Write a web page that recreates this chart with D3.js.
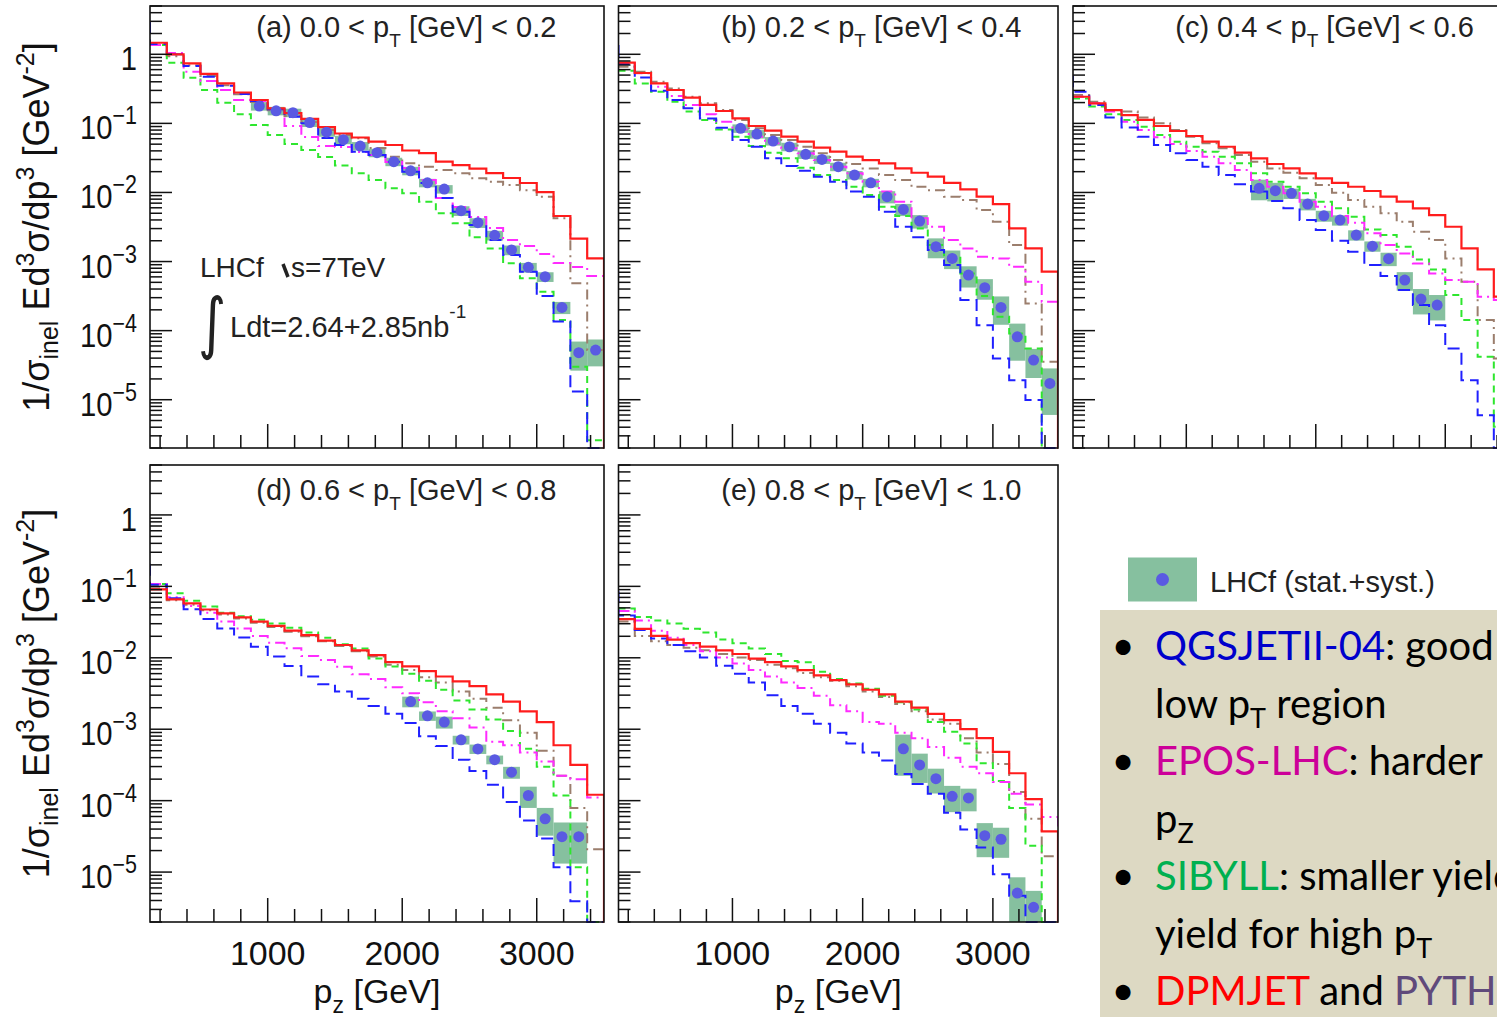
<!DOCTYPE html>
<html>
<head>
<meta charset="utf-8">
<script src="https://cdn.jsdelivr.net/npm/d3@7/dist/d3.min.js"></script>
<style>
  html, body { margin: 0; padding: 0; background: #fff; overflow: hidden; }
  svg { display: block; }
  text { font-family: "Liberation Sans", Arial, Helvetica, sans-serif; }
</style>
</head>
<body>
<svg id="chart" width="1497" height="1017"></svg>
<script>
// pi0 pz spectra, LHCf p+p at 7 TeV, five pT intervals.
// Each model array holds one value per 125 GeV pz bin, from 125 GeV up to 3500 GeV.
// Unit: 1/sigma_inel E d3sigma/dp3 [GeV^-2]. 0 = empty bin.

const ptLow  = ["0.0", "0.2", "0.4", "0.6", "0.8"];
const ptHigh = ["0.2", "0.4", "0.6", "0.8", "1.0"];
const panelTags = ["(a)", "(b)", "(c)", "(d)", "(e)"];

// QGSJET II-04 content of the 0-125 GeV bin (left of the frame)
const qgsjetUnderflow = [3.1, 1.44, 0.53, 0.216, 0.0906];

// ---- (a) 0.0 < pT < 0.2 GeV
const dpmjetA = [1.47, 1.0, 0.74, 0.52, 0.38, 0.28, 0.218, 0.165, 0.141, 0.116, 0.0885, 0.0713, 0.0624, 0.0543, 0.0486, 0.0405, 0.0372, 0.0279, 0.0249, 0.0222, 0.0191, 0.0162, 0.0137, 0.0101, 0.00456, 0.00215, 0.00111];
const qgsjetA = [1.41, 1.0, 0.676, 0.474, 0.351, 0.266, 0.211, 0.160, 0.125, 0.100, 0.0614, 0.0486, 0.0389, 0.0348, 0.0279, 0.0200, 0.0137, 0.00832, 0.00526, 0.00338, 0.00205, 0.00124, 0.000713, 0.000317, 0.000135, 1.31e-5, 0];
const eposA   = [1.36, 1.04, 0.560, 0.410, 0.304, 0.218, 0.211, 0.161, 0.0916, 0.0635, 0.0470, 0.0455, 0.0385, 0.0348, 0.0276, 0.0226, 0.0151, 0.00832, 0.00615, 0.00442, 0.00305, 0.00205, 0.00168, 0.00129, 0.000953, 0.000834, 0.000617];
const sibyllA = [1.36, 0.755, 0.458, 0.304, 0.199, 0.135, 0.0946, 0.0679, 0.0502, 0.0411, 0.0326, 0.0245, 0.0189, 0.0151, 0.0115, 0.00973, 0.00735, 0.00499, 0.00357, 0.00224, 0.00155, 0.000942, 0.000571, 0.000366, 0.000142, 3.0e-5, 2.6e-6];
const pythiaA = [1.38, 0.935, 0.693, 0.485, 0.356, 0.264, 0.204, 0.155, 0.128, 0.105, 0.0802, 0.0679, 0.0608, 0.0440, 0.0329, 0.0264, 0.0236, 0.0211, 0.0189, 0.0160, 0.0143, 0.0128, 0.0108, 0.00867, 0.00423, 0.000484, 5.24e-5];
const lhcfA   = [null, null, null, null, null, null, 0.178, 0.152, 0.143, 0.103, 0.0745, 0.058, 0.047, 0.0376, 0.0279, 0.0206, 0.0138, 0.0112, 0.00544, 0.00365, 0.0024, 0.00147, 0.000824, 0.000603, 0.000217, 4.79e-5, 5.24e-5];
const lhcfErrA = [null, null, null, null, null, null, 0.14, 0.14, 0.14, 0.14, 0.14, 0.14, 0.14, 0.14, 0.14, 0.14, 0.14, 0.14, 0.16, 0.16, 0.16, 0.16, 0.16, 0.16, 0.2, 0.45, 0.42];

// ---- (b) 0.2 < pT < 0.4 GeV
const dpmjetB = [0.757, 0.536, 0.379, 0.304, 0.236, 0.185, 0.151, 0.118, 0.0916, 0.0783, 0.0641, 0.0543, 0.0445, 0.0389, 0.0330, 0.0294, 0.0264, 0.0223, 0.0193, 0.0169, 0.0138, 0.0111, 0.00869, 0.00679, 0.00302, 0.00155, 0.000713];
const qgsjetB = [0.723, 0.463, 0.297, 0.218, 0.165, 0.118, 0.0867, 0.0574, 0.0459, 0.0312, 0.0242, 0.0207, 0.0169, 0.0143, 0.0103, 0.00869, 0.00526, 0.00319, 0.00224, 0.00147, 0.000889, 0.000277, 0.000120, 3.96e-5, 1.92e-5, 9.9e-6, 0];
const eposB   = [0.740, 0.530, 0.340, 0.249, 0.185, 0.136, 0.106, 0.0818, 0.0641, 0.0514, 0.0435, 0.0368, 0.0294, 0.0236, 0.0189, 0.0143, 0.0103, 0.00735, 0.00422, 0.00319, 0.00205, 0.00155, 0.00117, 0.00111, 0.000841, 0.000511, 0.000262];
const sibyllB = [0.579, 0.379, 0.288, 0.206, 0.148, 0.112, 0.0818, 0.0641, 0.0470, 0.0377, 0.0312, 0.0228, 0.0179, 0.0151, 0.0121, 0.00918, 0.00622, 0.00456, 0.00302, 0.00173, 0.00117, 0.000673, 0.000316, 0.000159, 9.12e-5, 5.53e-5, 0];
const pythiaB = [0.662, 0.560, 0.402, 0.321, 0.243, 0.195, 0.156, 0.112, 0.0847, 0.0678, 0.0574, 0.0459, 0.0368, 0.0294, 0.0258, 0.0223, 0.0179, 0.0151, 0.0121, 0.0108, 0.00869, 0.00776, 0.00556, 0.00378, 0.00173, 0.000248, 3.55e-5];
const lhcfB   = [null, null, null, null, null, null, null, 0.0847, 0.0701, 0.0555, 0.0459, 0.0356, 0.0301, 0.0236, 0.0179, 0.0138, 0.00869, 0.00569, 0.00385, 0.00164, 0.00111, 0.000637, 0.000418, 0.000217, 8.15e-5, 3.75e-5, 1.72e-5];
const lhcfErrB = [null, null, null, null, null, null, null, 0.14, 0.14, 0.14, 0.14, 0.14, 0.14, 0.14, 0.14, 0.14, 0.2, 0.2, 0.22, 0.32, 0.3, 0.34, 0.33, 0.44, 0.55, 0.45, 0.65];

// ---- (c) 0.4 < pT < 0.6 GeV
const dpmjetC = [0.243, 0.195, 0.156, 0.132, 0.112, 0.0916, 0.0775, 0.0656, 0.0543, 0.0459, 0.0377, 0.0312, 0.0258, 0.0223, 0.0189, 0.0160, 0.0138, 0.0121, 0.0105, 0.00869, 0.00735, 0.00589, 0.00471, 0.00319, 0.00155, 0.000769, 0.000310];
const qgsjetC = [0.288, 0.185, 0.122, 0.0875, 0.0641, 0.0486, 0.0368, 0.0294, 0.0236, 0.0179, 0.0132, 0.0103, 0.00752, 0.00589, 0.00399, 0.00286, 0.00200, 0.00139, 0.000889, 0.000617, 0.000386, 0.000234, 0.000120, 5.5e-5, 1.92e-5, 5.98e-6, 0];
const eposC   = [0.243, 0.195, 0.148, 0.106, 0.0802, 0.0628, 0.0502, 0.0398, 0.0330, 0.0264, 0.0211, 0.0151, 0.0121, 0.00971, 0.00735, 0.00622, 0.00456, 0.00365, 0.00256, 0.00173, 0.00131, 0.000940, 0.000673, 0.000540, 0.000511, 0.000310, 0.000277];
const sibyllC = [0.230, 0.175, 0.136, 0.112, 0.0895, 0.0678, 0.0543, 0.0459, 0.0389, 0.0330, 0.0264, 0.0189, 0.0143, 0.0121, 0.00971, 0.00735, 0.00589, 0.00446, 0.00292, 0.00242, 0.00164, 0.00107, 0.000769, 0.000327, 0.000142, 4.19e-5, 4.06e-6];
const pythiaC = [0.258, 0.206, 0.156, 0.148, 0.122, 0.100, 0.0802, 0.0641, 0.0514, 0.0435, 0.0348, 0.0279, 0.0223, 0.0193, 0.0160, 0.0128, 0.00991, 0.00776, 0.00622, 0.00498, 0.00378, 0.00270, 0.00205, 0.00111, 0.000511, 0.000142, 3.96e-5];
const lhcfC   = [null, null, null, null, null, null, null, null, null, null, null, 0.0115, 0.0106, 0.00971, 0.00679, 0.00460, 0.00399, 0.00242, 0.00167, 0.00110, 0.000540, 0.000286, 0.000234, null, null, null, null];
const lhcfErrC = [null, null, null, null, null, null, null, null, null, null, null, 0.33, 0.3, 0.17, 0.19, 0.18, 0.17, 0.17, 0.17, 0.22, 0.3, 0.4, 0.4, null, null, null, null];

// ---- (d) 0.6 < pT < 0.8 GeV
const dpmjetD = [0.0906, 0.0656, 0.0578, 0.0474, 0.0418, 0.0368, 0.0321, 0.0279, 0.0240, 0.0207, 0.0174, 0.0151, 0.0127, 0.0109, 0.00869, 0.00757, 0.00650, 0.00547, 0.00466, 0.00401, 0.00307, 0.00244, 0.00178, 0.00126, 0.000596, 0.000316, 0.000121];
const qgsjetD = [0.105, 0.0679, 0.0480, 0.0348, 0.0258, 0.0193, 0.0143, 0.0104, 0.00766, 0.00547, 0.00425, 0.00337, 0.00267, 0.00212, 0.00164, 0.00122, 0.000794, 0.000582, 0.000375, 0.000259, 0.000167, 9.59e-5, 5.26e-5, 2.95e-5, 1.17e-5, 3.91e-6, 0];
const eposD   = [0.108, 0.0703, 0.0533, 0.0428, 0.0321, 0.0258, 0.0202, 0.0162, 0.0136, 0.0106, 0.00931, 0.00748, 0.00586, 0.00505, 0.00387, 0.00318, 0.00238, 0.00178, 0.00142, 0.00106, 0.000668, 0.000596, 0.000472, 0.000354, 0.000223, 0.000199, 0.000111];
const sibyllD = [0.108, 0.0798, 0.0627, 0.0521, 0.0428, 0.0381, 0.0340, 0.0303, 0.0264, 0.0226, 0.0191, 0.0155, 0.0135, 0.00975, 0.00757, 0.00600, 0.00476, 0.00357, 0.00252, 0.00189, 0.00137, 0.000944, 0.000531, 0.000298, 0.000118, 1.17e-5, 0];
const pythiaD = [0.0938, 0.0641, 0.0552, 0.0464, 0.0404, 0.0356, 0.0310, 0.0270, 0.0232, 0.0200, 0.0170, 0.0146, 0.0123, 0.0104, 0.00802, 0.00673, 0.00535, 0.00450, 0.00337, 0.00267, 0.00200, 0.00134, 0.000891, 0.000501, 0.000223, 7.89e-5, 2.09e-5];
const lhcfD   = [null, null, null, null, null, null, null, null, null, null, null, null, null, null, null, 0.00244, 0.00154, 0.00126, 0.00071, 0.00053, 0.000375, 0.00025, 0.000118, 5.57e-5, 3.13e-5, 3.13e-5, null];
const lhcfErrD = [null, null, null, null, null, null, null, null, null, null, null, null, null, null, null, 0.17, 0.15, 0.19, 0.14, 0.15, 0.14, 0.19, 0.33, 0.42, 0.58, 0.58, null];

// ---- (e) 0.8 < pT < 1.0 GeV
const dpmjetE = [0.0348, 0.0254, 0.0202, 0.0180, 0.0160, 0.0143, 0.0127, 0.0113, 0.00975, 0.00869, 0.00757, 0.00673, 0.00566, 0.00488, 0.00425, 0.00357, 0.00307, 0.00244, 0.00200, 0.00164, 0.00134, 0.00100, 0.000750, 0.000483, 0.000242, 0.000105, 3.72e-5];
const qgsjetE = [0.0390, 0.0245, 0.0186, 0.0151, 0.0123, 0.0101, 0.00774, 0.00600, 0.00450, 0.00300, 0.00212, 0.00164, 0.00119, 0.000891, 0.000631, 0.000472, 0.000366, 0.000236, 0.000171, 0.000125, 6.78e-5, 3.94e-5, 2.21e-5, 9.3e-6, 4.65e-6, 1.95e-6, 0];
const eposE   = [0.0453, 0.0332, 0.0240, 0.0191, 0.0151, 0.0123, 0.0101, 0.00830, 0.00673, 0.00547, 0.00450, 0.00378, 0.00293, 0.00217, 0.00178, 0.00126, 0.00119, 0.000891, 0.000750, 0.000562, 0.000397, 0.000298, 0.000242, 0.000183, 0.000125, 8.85e-5, 5.9e-5];
const sibyllE = [0.0491, 0.0372, 0.0332, 0.0303, 0.0254, 0.0226, 0.0180, 0.0160, 0.0135, 0.0113, 0.00899, 0.00869, 0.00635, 0.00505, 0.00435, 0.00370, 0.00293, 0.00238, 0.00189, 0.00126, 0.000923, 0.000631, 0.000334, 0.000188, 7.89e-5, 2.34e-5, 0];
const pythiaE = [0.0321, 0.0202, 0.0170, 0.0151, 0.0138, 0.0127, 0.0113, 0.0101, 0.00931, 0.00802, 0.00714, 0.00614, 0.00535, 0.00476, 0.00401, 0.00337, 0.00283, 0.00225, 0.00178, 0.00137, 0.00119, 0.000750, 0.000472, 0.000327, 0.000132, 5.57e-5, 1.66e-5];
const lhcfE   = [null, null, null, null, null, null, null, null, null, null, null, null, null, null, null, null, null, 5.31e-4, 3.16e-4, 2.03e-4, 1.15e-4, 1.09e-4, 3.23e-5, 2.88e-5, 5.09e-6, 3.21e-6, null];
const lhcfErrE = [null, null, null, null, null, null, null, null, null, null, null, null, null, null, null, null, null, 0.58, 0.44, 0.38, 0.4, 0.35, 0.5, 0.45, 0.66, 0.7, null];

// axis tick values
const yTickExponents = [0, -1, -2, -3, -4, -5];
const xMajorTicks = [1000, 2000, 3000];
const xMinorTicks = [200, 400, 600, 800, 1200, 1400, 1600, 1800, 2200, 2400, 2600, 2800, 3200, 3400];

// ---------------------------------------------------------------
const pzMin = 125, pzMax = 3500, binWidth = 125;
const yMin = 2e-6, yMax = 5;

const models = [
  { key: "pythia", color: "#9b7e6d", dash: "10 5 2 5", width: 2 },
  { key: "sibyll", color: "#2ee62e", dash: "7 5", width: 2 },
  { key: "epos",   color: "#ff2bff", dash: "11 5 2 5", width: 2 },
  { key: "qgsjet", color: "#2020ff", dash: "12 6", width: 2 },
  { key: "dpmjet", color: "#ff1c1c", dash: null, width: 2.2 }
];

const panels = [
  { box: [150, 604, 6, 448],      labelY: 37,  leftAxis: true,  bottomAxis: false,
    series: { dpmjet: dpmjetA, qgsjet: qgsjetA, epos: eposA, sibyll: sibyllA, pythia: pythiaA }, lhcf: lhcfA, err: lhcfErrA },
  { box: [618.5, 1058, 6, 448],   labelY: 37,  leftAxis: false, bottomAxis: false,
    series: { dpmjet: dpmjetB, qgsjet: qgsjetB, epos: eposB, sibyll: sibyllB, pythia: pythiaB }, lhcf: lhcfB, err: lhcfErrB },
  { box: [1073, 1510, 6, 448],    labelY: 37,  leftAxis: false, bottomAxis: false,
    series: { dpmjet: dpmjetC, qgsjet: qgsjetC, epos: eposC, sibyll: sibyllC, pythia: pythiaC }, lhcf: lhcfC, err: lhcfErrC },
  { box: [150, 604, 465, 922],    labelY: 500, leftAxis: true,  bottomAxis: true,
    series: { dpmjet: dpmjetD, qgsjet: qgsjetD, epos: eposD, sibyll: sibyllD, pythia: pythiaD }, lhcf: lhcfD, err: lhcfErrD },
  { box: [618.5, 1058, 465, 922], labelY: 500, leftAxis: false, bottomAxis: true,
    series: { dpmjet: dpmjetE, qgsjet: qgsjetE, epos: eposE, sibyll: sibyllE, pythia: pythiaE }, lhcf: lhcfE, err: lhcfErrE }
];

const svg = d3.select("#chart");
const defs = svg.append("defs");
defs.append("filter").attr("id", "soft")
  .attr("x", "-50%").attr("y", "-50%").attr("width", "200%").attr("height", "200%")
  .append("feGaussianBlur").attr("stdDeviation", 0.6);

const boxFill = "#86c09f";
const dotFill = "#5a5ae2";

panels.forEach((p, pi) => {
  const [x0, x1, y0, y1] = p.box;
  const x = d3.scaleLinear().domain([pzMin, pzMax]).range([x0, x1]);
  const y = d3.scaleLog().domain([yMin, yMax]).range([y1, y0]);
  const yc = v => y(Math.max(v || 0, yMin));

  const g = svg.append("g");
  const clipId = "clip" + pi;
  defs.append("clipPath").attr("id", clipId)
    .append("rect").attr("x", x0).attr("y", y0).attr("width", x1 - x0).attr("height", y1 - y0 + 1);

  const plot = g.append("g").attr("clip-path", `url(#${clipId})`);

  // LHCf systematic boxes
  p.lhcf.forEach((v, i) => {
    if (v == null) return;
    const e = p.err[i];
    const lo = pzMin + i * binWidth;
    plot.append("rect")
      .attr("x", x(lo)).attr("width", x(lo + binWidth) - x(lo))
      .attr("y", yc(v * (1 + e)))
      .attr("height", yc(v * (1 - e)) - yc(v * (1 + e)))
      .attr("fill", boxFill);
  });

  // model histograms
  models.forEach(m => {
    const vals = p.series[m.key];
    const pts = [];
    if (m.key === "qgsjet") {
      pts.push([x(0), yc(qgsjetUnderflow[pi])]);
      pts.push([x(pzMin), yc(qgsjetUnderflow[pi])]);
    }
    vals.forEach((v, i) => {
      const lo = pzMin + i * binWidth;
      pts.push([x(lo), yc(v)]);
      pts.push([x(lo + binWidth), yc(v)]);
    });
    pts.push([x(pzMax), y1 + 4]);
    const path = plot.append("path")
      .attr("d", d3.line()(pts))
      .attr("fill", "none")
      .attr("stroke", m.color)
      .attr("stroke-width", m.width)
      .attr("stroke-linejoin", "miter");
    if (m.dash) path.attr("stroke-dasharray", m.dash);
  });

  // LHCf points
  p.lhcf.forEach((v, i) => {
    if (v == null) return;
    const c = pzMin + (i + 0.5) * binWidth;
    plot.append("circle")
      .attr("cx", x(c)).attr("cy", yc(v)).attr("r", 5.5)
      .attr("fill", dotFill).attr("filter", "url(#soft)");
  });

  // frame
  g.append("rect").attr("x", x0).attr("y", y0)
    .attr("width", x1 - x0).attr("height", y1 - y0)
    .attr("fill", "none").attr("stroke", "#111").attr("stroke-width", 1.6);

  // y ticks (log): long at decades, short at 2..9
  const yTicks = [];
  for (let n = -6; n <= 0; n++) {
    for (let k = 1; k <= 9; k++) {
      const v = k * Math.pow(10, n);
      if (v >= yMin && v <= yMax) yTicks.push({ v, major: k === 1 });
    }
  }
  g.selectAll(null).data(yTicks).enter().append("line")
    .attr("x1", x0).attr("x2", d => x0 + (d.major ? 22 : 12))
    .attr("y1", d => y(d.v)).attr("y2", d => y(d.v))
    .attr("stroke", "#111").attr("stroke-width", 1.5);

  // x ticks
  const xt = xMajorTicks.map(v => ({ v, major: true })).concat(xMinorTicks.map(v => ({ v, major: false })));
  g.selectAll(null).data(xt).enter().append("line")
    .attr("x1", d => x(d.v)).attr("x2", d => x(d.v))
    .attr("y1", y1).attr("y2", d => y1 - (d.major ? 24 : 13))
    .attr("stroke", "#111").attr("stroke-width", 1.5);

  // panel title
  const t = g.append("text")
    .attr("x", x0 + 0.234 * (x1 - x0)).attr("y", p.labelY)
    .style("font-size", "29px").attr("fill", "#222");
  t.append("tspan").text(`${panelTags[pi]} ${ptLow[pi]} < p`);
  t.append("tspan").attr("dy", 10).style("font-size", "19px").text("T");
  t.append("tspan").attr("dy", -10).text(` [GeV] < ${ptHigh[pi]}`);

  // y tick labels
  if (p.leftAxis) {
    yTickExponents.forEach(n => {
      const lab = g.append("text")
        .attr("transform", `translate(${x0 - 13},${y(Math.pow(10, n)) + 16}) scale(0.86,1)`)
        .attr("text-anchor", "end").style("font-size", "34px").attr("fill", "#111");
      if (n === 0) lab.text("1");
      else {
        lab.append("tspan").text("10");
        lab.append("tspan").attr("dy", -15).style("font-size", "25px").text("\u2212" + (-n));
      }
    });
    // y title
    const yt = g.append("text")
      .attr("transform", `translate(49,${(y0 + y1) / 2}) rotate(-90)`)
      .attr("text-anchor", "middle").style("font-size", "36px").attr("fill", "#111");
    yt.append("tspan").text("1/\u03c3");
    yt.append("tspan").attr("dy", 9).style("font-size", "25px").text("inel");
    yt.append("tspan").attr("dy", -9).text(" Ed");
    yt.append("tspan").attr("dy", -15).style("font-size", "25px").text("3");
    yt.append("tspan").attr("dy", 15).text("\u03c3/dp");
    yt.append("tspan").attr("dy", -15).style("font-size", "25px").text("3");
    yt.append("tspan").attr("dy", 15).text(" [GeV");
    yt.append("tspan").attr("dy", -15).style("font-size", "25px").text("-2");
    yt.append("tspan").attr("dy", 15).text("]");
  }

  // x tick labels and title
  if (p.bottomAxis) {
    xMajorTicks.forEach(v => {
      g.append("text").attr("x", x(v)).attr("y", y1 + 43)
        .attr("text-anchor", "middle").style("font-size", "34px").attr("fill", "#111")
        .text(v);
    });
    const xtitle = g.append("text").attr("x", (x0 + x1) / 2).attr("y", y1 + 81)
      .attr("text-anchor", "middle").style("font-size", "34px").attr("fill", "#111");
    xtitle.append("tspan").text("p");
    xtitle.append("tspan").attr("dy", 10).style("font-size", "23px").text("z");
    xtitle.append("tspan").attr("dy", -10).text(" [GeV]");
  }
});

// run info in panel (a)
const info = svg.append("g").attr("fill", "#222");
info.append("text").attr("x", 200).attr("y", 277).style("font-size", "28px").text("LHCf");
info.append("line").attr("x1", 283).attr("y1", 264).attr("x2", 288).attr("y2", 277)
  .attr("stroke", "#222").attr("stroke-width", 3.5);
info.append("text").attr("x", 291).attr("y", 277).style("font-size", "28px").text("s=7TeV");
info.append("text").attr("transform", "translate(198,346) scale(1,1.25)")
  .style("font-family", "DejaVu Sans").style("font-size", "54px").text("\u222b");
const lumi = info.append("text").attr("x", 230).attr("y", 337).style("font-size", "29px");
lumi.append("tspan").text("Ldt=2.64+2.85nb");
lumi.append("tspan").attr("dy", -19).style("font-size", "19px").text("-1");

// legend for the data
const leg = svg.append("g");
leg.append("rect").attr("x", 1128).attr("y", 557.5).attr("width", 69).attr("height", 44).attr("fill", boxFill);
leg.append("circle").attr("cx", 1162.5).attr("cy", 579.5).attr("r", 6.5).attr("fill", dotFill).attr("filter", "url(#soft)");
leg.append("text").attr("x", 1210).attr("y", 592).style("font-size", "29px").attr("fill", "#222")
  .text("LHCf (stat.+syst.)");

// summary box
const noteLines = [
  { bullet: true,  parts: [{ t: "QGSJETII-04", c: "#0000cc" }, { t: ": good" }] },
  { bullet: false, parts: [{ t: "low p" }, { t: "T", sub: true }, { t: " region" }] },
  { bullet: true,  parts: [{ t: "EPOS-LHC", c: "#cc0099" }, { t: ": harder" }] },
  { bullet: false, parts: [{ t: "p" }, { t: "Z", sub: true }] },
  { bullet: true,  parts: [{ t: "SIBYLL", c: "#00b050" }, { t: ": smaller yield" }] },
  { bullet: false, parts: [{ t: "yield for high p" }, { t: "T", sub: true }] },
  { bullet: true,  parts: [{ t: "DPMJET", c: "#ff0000" }, { t: " and " }, { t: "PYTHIA", c: "#604a7b" }] }
];
const note = svg.append("g");
note.append("rect").attr("x", 1100).attr("y", 610).attr("width", 420).attr("height", 420).attr("fill", "#ddd9c3");
noteLines.forEach((ln, i) => {
  const by = 660 + i * 57.5;
  if (ln.bullet) {
    note.append("text").attr("x", 1123).attr("y", by).attr("text-anchor", "middle")
      .style("font-family", "Lato, 'Open Sans', sans-serif").style("font-size", "40px").attr("fill", "#000")
      .text("\u2022");
  }
  const tx = note.append("text").attr("x", 1155).attr("y", by)
    .style("font-family", "Lato, 'Open Sans', sans-serif").style("font-size", "40px").attr("fill", "#000");
  let shifted = false;
  ln.parts.forEach(pt => {
    const s = tx.append("tspan").text(pt.t);
    if (pt.c) s.attr("fill", pt.c);
    if (pt.sub) { s.attr("dy", 10).style("font-size", "27px"); shifted = true; }
    else if (shifted) { s.attr("dy", -10); shifted = false; }
  });
});
</script>
</body>
</html>
